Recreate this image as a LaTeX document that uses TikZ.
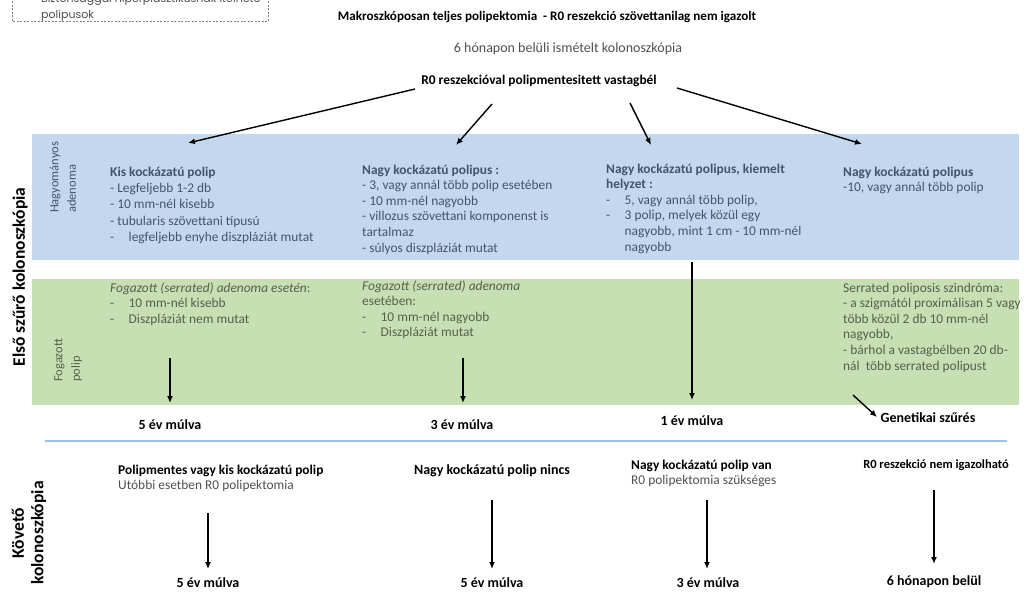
\documentclass[tikz,border=0pt]{standalone}
\usepackage{fontspec}
\setmainfont{Carlito}
\newfontfamily\notefont{Poppins}
\usetikzlibrary{arrows.meta}
\definecolor{bandblue}{HTML}{C3D8EE}
\definecolor{bandgreen}{HTML}{C6E0B4}
\definecolor{bluetext}{HTML}{44546A}
\definecolor{greentext}{HTML}{56604C}
\definecolor{greytext}{HTML}{505050}
\definecolor{sepblue}{HTML}{9DC3E6}
\newcommand\blk[1]{\begin{tabular}[t]{@{}l@{}}#1\end{tabular}}
\newcommand\dsh[1]{\makebox[18.5pt][l]{-}#1}
\begin{document}
\begin{tikzpicture}[x=1pt,y=-1pt,
  txt/.style={inner sep=0pt, anchor=base west, font=\fontsize{13.4}{15.6}\selectfont},
  btxt/.style={inner sep=0pt, anchor=base west, font=\fontsize{13.4}{15.6}\selectfont\bfseries},
  lab/.style={inner sep=0pt, anchor=base, font=\fontsize{14}{16}\selectfont\bfseries},
  ctr/.style={anchor=base},
  arr/.style={line width=1.4pt, -{Latex[length=7pt,width=6pt]}},
  side/.style={rotate=90, inner sep=0pt, font=\fontsize{17.5}{19.5}\selectfont\bfseries, align=center},
  rowlab/.style={rotate=90, inner sep=0pt, anchor=west, align=left, font=\fontsize{12.5}{17.5}\selectfont}
]
\useasboundingbox (0,0) rectangle (1027,592);
\clip (0,0) rectangle (1027,592);
\fill[white] (0,0) rectangle (1027,592);

% bands
\fill[bandblue] (32,134) rectangle (1019,260);
\fill[bandgreen] (32,279) rectangle (1019,405);
\draw[sepblue, line width=2pt] (45,441) -- (1007,441);

% note box (cut off at top)
\draw[gray, line width=0.6pt, dash pattern=on 2pt off 1.5pt] (12,-20) rectangle (268,21);
\node[inner sep=0pt, anchor=base west, font=\notefont\fontsize{11}{15.5}\selectfont, text=greytext] (note) at (41,2.5)
  {\blk{Biztonsággal hiperplasztikusnak ítélhető\\polipusok}};

% top texts
\node[btxt, ctr, font=\fontsize{13.1}{15.6}\selectfont\bfseries] (title) at (547,20) {Makroszkóposan teljes polipektomia\ \ - R0 reszekció szövettanilag nem igazolt};
\node[txt, ctr, text=greytext, font=\fontsize{14}{16}\selectfont] (repeat) at (568,52) {6 hónapon belüli ismételt kolonoszkópia};
\node[btxt, ctr] (r0) at (539,84) {R0 reszekcióval polipmentesitett vastagbél};

% side labels
\node[side] (first) at (20,277) {Első szűrő kolonoszkópia};
\node[side] (follow) at (29,533) {Követő\\kolonoszkópia};
\node[rowlab, text=bluetext] (hagy) at (63,213) {Hagyományos\\adenoma};
\node[rowlab, text=greentext] (fog) at (68,382) {Fogazott\\polip};

% blue band columns
\node[txt, text=bluetext, font=\fontsize{13.4}{16.4}\selectfont] (c1) at (110,176) {\blk{\textbf{Kis kockázatú polip}\\- Legfeljebb 1-2 db\\- 10 mm-nél kisebb\\- tubularis szövettani típusú\\\dsh{legfeljebb enyhe diszpláziát mutat}}};
\node[txt, text=bluetext] (c2) at (362,174) {\blk{\textbf{Nagy kockázatú polipus :}\\- 3, vagy annál több polip esetében\\- 10 mm-nél nagyobb\\- villozus szövettani komponenst is\\tartalmaz\\- súlyos diszpláziát mutat}};
\node[txt, text=bluetext] (c3) at (606,173) {\blk{\textbf{Nagy kockázatú polipus, kiemelt}\\\textbf{helyzet :}\\\dsh{5, vagy annál több polip,}\\\dsh{3 polip, melyek közül egy}\\\hspace*{18.5pt}nagyobb, mint 1 cm - 10 mm-nél\\\hspace*{18.5pt}nagyobb}};
\node[txt, text=bluetext] (c4) at (843,176) {\blk{\textbf{Nagy kockázatú polipus}\\-10, vagy annál több polip}};

% green band columns
\node[txt, text=greentext] (g1) at (110,292) {\blk{\textit{Fogazott (serrated) adenoma esetén}:\\\dsh{10 mm-nél kisebb}\\\dsh{Diszpláziát nem mutat}}};
\node[txt, text=greentext] (g2) at (362,290) {\blk{\textit{Fogazott (serrated) adenoma}\\esetében:\\\dsh{10 mm-nél nagyobb}\\\dsh{Diszpláziát mutat}}};
\node[txt, text=greentext] (g4) at (843,292) {\blk{Serrated poliposis szindróma:\\- a szigmától proximálisan 5 vagy\\több közül 2 db 10 mm-nél\\nagyobb,\\- bárhol a vastagbélben 20 db-\\nál\ \ több serrated polipust}};

% first-screening results
\node[lab] (r1) at (170,429) {5 év múlva};
\node[lab] (r2) at (462,429) {3 év múlva};
\node[lab] (r3) at (692,425) {1 év múlva};
\node[lab] (gen) at (928,422) {Genetikai szűrés};

% follow-up
\node[txt] (f1) at (118,474) {\blk{\textbf{Polipmentes vagy kis kockázatú polip}\\\textcolor{greytext}{Utóbbi esetben R0 polipektomia}}};
\node[lab] (f2) at (492,474) {Nagy kockázatú polip nincs};
\node[txt] (f3) at (631,469) {\blk{\textbf{Nagy kockázatú polip van}\\\textcolor{greytext}{R0 polipektomia szükséges}}};
\node[btxt, ctr, font=\fontsize{12.5}{15}\selectfont\bfseries] (f4) at (936,468) {R0 reszekció nem igazolható};
\node[lab] (e1) at (208,587) {5 év múlva};
\node[lab] (e2) at (492,587) {5 év múlva};
\node[lab] (e3) at (708,587) {3 év múlva};
\node[lab] (e4) at (934,585) {6 hónapon belül};

% arrow end points
\coordinate (a1s) at (415,89);  \coordinate (a1e) at (188,143);
\coordinate (a2s) at (492,104); \coordinate (a2e) at (456,145);
\coordinate (a3s) at (630,103); \coordinate (a3e) at (651,145);
\coordinate (a4s) at (677,88);  \coordinate (a4e) at (862,144);
\coordinate (b1s) at (170,358); \coordinate (b1e) at (170,403);
\coordinate (b2s) at (463,358); \coordinate (b2e) at (463,403);
\coordinate (b3s) at (692,262); \coordinate (b3e) at (692,400);
\coordinate (b4s) at (853,395); \coordinate (b4e) at (877,417);
\coordinate (d1s) at (208,513); \coordinate (d1e) at (208,569);
\coordinate (d2s) at (492,500); \coordinate (d2e) at (492,569);
\coordinate (d3s) at (707,500); \coordinate (d3e) at (707,569);
\coordinate (d4s) at (934,490); \coordinate (d4e) at (934,564);

\draw[arr] (a1s) -- (a1e);
\draw[arr] (a2s) -- (a2e);
\draw[arr] (a3s) -- (a3e);
\draw[arr] (a4s) -- (a4e);
\draw[arr] (b1s) -- (b1e);
\draw[arr] (b2s) -- (b2e);
\draw[arr] (b3s) -- (b3e);
\draw[arr] (b4s) -- (b4e);
\draw[arr] (d1s) -- (d1e);
\draw[arr] (d2s) -- (d2e);
\draw[arr] (d3s) -- (d3e);
\draw[arr] (d4s) -- (d4e);
\end{tikzpicture}
\end{document}
